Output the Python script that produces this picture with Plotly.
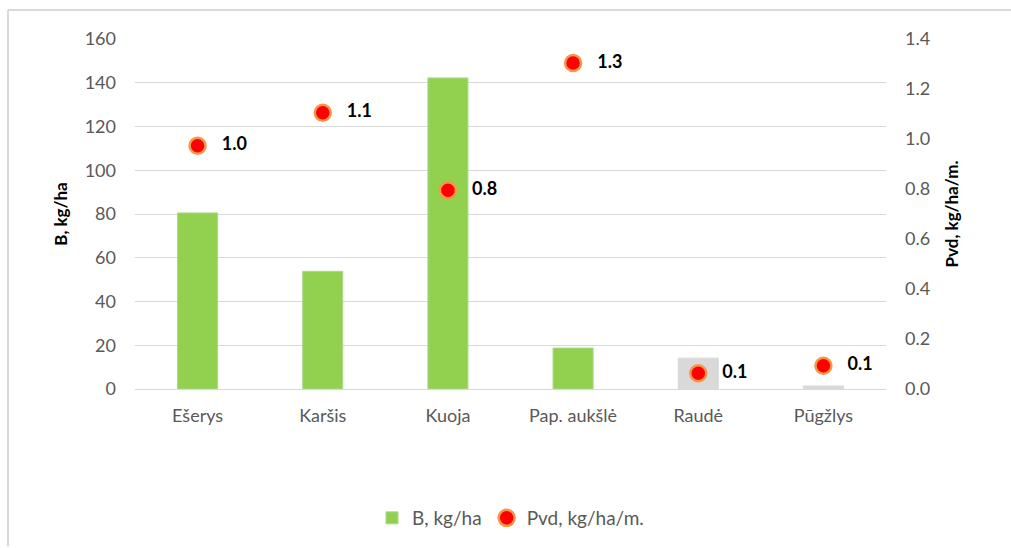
import plotly.graph_objects as go

# Fish species and their values
species = ["Ešerys", "Karšis", "Kuoja", "Pap. aukšlė", "Raudė", "Pūgžlys"]
biomass = [80.5, 53.8, 142.2, 18.7, 14.1, 1.4]          # B, kg/ha
catch_rate = [0.973, 1.105, 0.795, 1.304, 0.063, 0.093]  # Pvd, kg/ha/m.

bar_colors = ["#92d050", "#92d050", "#92d050", "#92d050", "#d9d9d9", "#d9d9d9"]
bar_lines = ["#a9d98a", "#a9d98a", "#a9d98a", "#a9d98a", "#d9d9d9", "#d9d9d9"]

FONT = "Lato, Calibri, Carlito, sans-serif"
GRAY = "#595959"

fig = go.Figure()

fig.add_trace(go.Bar(
    x=species, y=biomass, name="B, kg/ha",
    marker=dict(color=bar_colors, line=dict(color=bar_lines, width=1)),
    width=0.32,
    yaxis="y",
))

fig.add_trace(go.Scatter(
    x=species, y=catch_rate, name="Pvd, kg/ha/m.",
    mode="markers+text",
    marker=dict(color="#ff0000", size=16, line=dict(color="#f79646", width=2.5)),
    texttemplate="   %{y:.1f}",
    textposition="middle right",
    textfont=dict(family=FONT, size=18, color="#000000", weight="bold"),
    yaxis="y2",
    cliponaxis=False,
))

L, R, T, B = 135, 125, 39, 158
W, H = 1011, 548
pw = W - L - R
ph = H - T - B

fig.update_layout(
    width=W, height=H,
    margin=dict(l=L, r=R, t=T, b=B),
    paper_bgcolor="white",
    plot_bgcolor="white",
    font=dict(family=FONT, size=18, color=GRAY),
    showlegend=True,
    legend=dict(
        orientation="h", x=0.50, xanchor="center",
        y=-(518 - T - ph) / ph,
        yanchor="middle",
        font=dict(family=FONT, size=19, color=GRAY),
        itemwidth=30,
        traceorder="normal",
    ),
    xaxis=dict(
        showgrid=False, showline=False, ticks="",
        tickfont=dict(family=FONT, size=18, color=GRAY),
        ticklabelstandoff=14,
        range=[-0.5, 5.5],
    ),
    yaxis=dict(
        range=[0, 160], dtick=20,
        showgrid=True, gridcolor="#d9d9d9", gridwidth=1,
        zeroline=True, zerolinecolor="#d9d9d9", zerolinewidth=1,
        showline=False, ticks="",
        tickfont=dict(family=FONT, size=18, color=GRAY),
        ticklabelstandoff=18,
        title=dict(text="<b>B, kg/ha</b>", font=dict(family=FONT, size=17, color="#000000"),
                   standoff=12),
    ),
    yaxis2=dict(
        range=[0, 1.4], dtick=0.2, tickformat=".1f",
        overlaying="y", side="right",
        showgrid=False, zeroline=False, showline=False, ticks="",
        tickfont=dict(family=FONT, size=18, color=GRAY),
        ticklabelstandoff=18,
        title=dict(text="<b>Pvd, kg/ha/m.</b>", font=dict(family=FONT, size=17, color="#000000"),
                   standoff=16),
    ),
)

# Outer frame lines (top and left edges of the chart container)
fig.add_shape(type="line", xref="paper", yref="paper",
              x0=(8 - L) / pw, x1=(W - L) / pw, y0=(T + ph - 10) / ph, y1=(T + ph - 10) / ph,
              line=dict(color="#d9d9d9", width=2), layer="below")
fig.add_shape(type="line", xref="paper", yref="paper",
              x0=(8 - L) / pw, x1=(8 - L) / pw, y0=(T + ph - 10) / ph, y1=-(H - T - ph) / ph,
              line=dict(color="#d9d9d9", width=2), layer="below")

fig.write_html("out.html")
